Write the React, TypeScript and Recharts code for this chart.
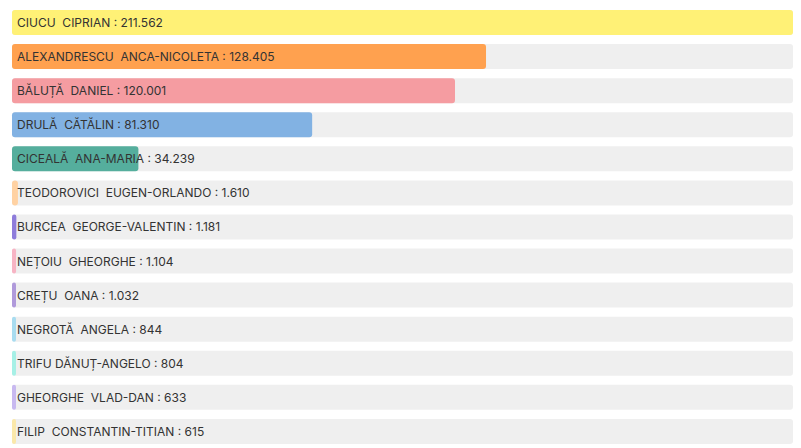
import React from 'react';
import { BarChart, Bar, XAxis, YAxis, Cell, LabelList } from 'recharts';

const names = [
  'CIUCU  CIPRIAN',
  'ALEXANDRESCU  ANCA-NICOLETA',
  'BĂLUȚĂ  DANIEL',
  'DRULĂ  CĂTĂLIN',
  'CICEALĂ  ANA-MARIA',
  'TEODOROVICI  EUGEN-ORLANDO',
  'BURCEA  GEORGE-VALENTIN',
  'NEȚOIU  GHEORGHE',
  'CREȚU  OANA',
  'NEGROTĂ  ANGELA',
  'TRIFU DĂNUȚ-ANGELO',
  'GHEORGHE  VLAD-DAN',
  'FILIP  CONSTANTIN-TITIAN',
];

const votes = [211562, 128405, 120001, 81310, 34239, 1610, 1181, 1104, 1032, 844, 804, 633, 615];

const colors = [
  '#FFF176', '#FFA14F', '#F59CA1', '#82B2E3', '#55AE9D',
  '#FFD2A3', '#8E7CDB', '#F7B4C4', '#B09ADB', '#A8DCF0',
  '#A6F0E6', '#C8B9F0', '#FAE8AA',
];

const data = names.map((n, i) => ({ name: n, value: votes[i] }));

const fmt = (v: number) => v.toString().replace(/\B(?=(\d{3})+(?!\d))/g, '.');

const renderLabel = (props: any) => {
  const { x, y, height, index } = props;
  return (
    <text
      x={x + 5}
      y={y + height / 2}
      dominantBaseline="central"
      fontFamily="Inter, sans-serif"
      fontSize={12}
      fill="#333"
      style={{ whiteSpace: 'pre' }}
      xmlSpace="preserve"
    >
      {`${data[index].name} : ${fmt(data[index].value)}`}
    </text>
  );
};

export default function App() {
  return (
    <div style={{ position: 'absolute', left: 0, top: 0 }}>
      <BarChart
        width={801}
        height={448}
        data={data}
        layout="vertical"
        margin={{ top: 5, right: 8, bottom: 0, left: 12 }}
        barSize={25}
      >
        <XAxis type="number" hide domain={[0, 211562]} />
        <YAxis type="category" dataKey="name" hide />
        <Bar
          dataKey="value"
          isAnimationActive={false}
          radius={3}
          minPointSize={4}
          background={{ fill: '#efefef', radius: 3 }}
        >
          {data.map((d, i) => (
            <Cell key={i} fill={colors[i]} />
          ))}
          <LabelList dataKey="value" content={renderLabel} />
        </Bar>
      </BarChart>
    </div>
  );
}
